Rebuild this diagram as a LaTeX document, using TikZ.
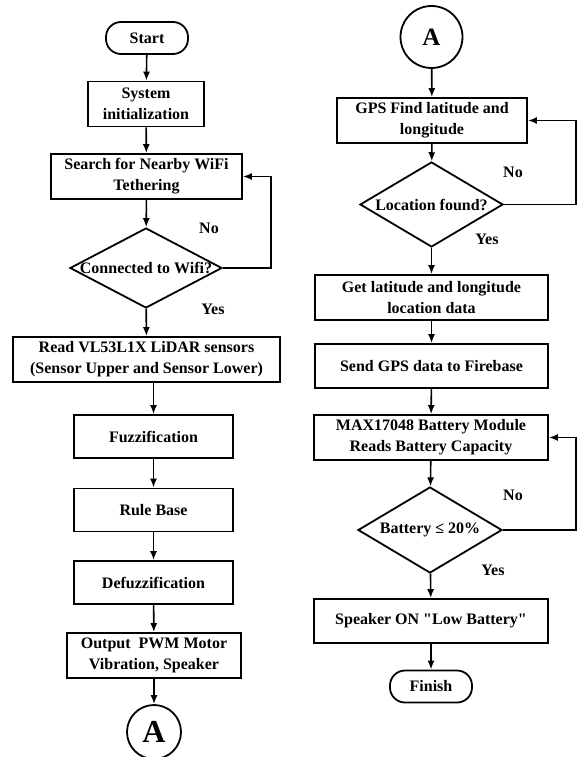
\documentclass[tikz,border=0pt]{standalone}
\usepackage{fontspec}
\setmainfont{Liberation Serif}[Ligatures=TeXOff]
\usetikzlibrary{shapes.geometric, arrows.meta}

\begin{document}
\begin{tikzpicture}[x=1pt, y=-1pt, >={Latex[length=9pt, width=7pt]}, line width=1.6pt,
    box/.style={draw, rectangle, line width=1.8pt, minimum height=45pt, align=center,
      inner sep=1pt, font=\bfseries\fontsize{16}{21}\selectfont},
    term/.style={box, rounded corners=15pt, minimum height=32pt, minimum width=82pt},
    decision/.style={draw, diamond, line width=1.8pt, inner sep=0pt},
    conn/.style={draw, circle, line width=1.8pt, inner sep=0pt},
    lbl/.style={font=\bfseries\fontsize{16}{18}\selectfont}]
    \useasboundingbox (0,0) rectangle (577,757);
    % left column
    \node [term]                        (start)  at (147, 38)    {Start};
    \node [box, minimum width=116pt]    (init)   at (146, 104)   {System\\initialization};
    \node [box, minimum width=191pt]    (search) at (146.5, 176.5) {Search for Nearby WiFi\\Tethering};
    \node [decision, minimum width=152pt, minimum height=80pt,
           label={[lbl]center:Connected to Wifi?}] (wifi) at (146, 268) {};
    \node [box, minimum width=267pt]    (read)   at (146.5, 359.5) {Read VL53L1X LiDAR sensors\\(Sensor Upper and Sensor Lower)};
    \node [box, minimum width=159pt, minimum height=43pt] (fuzz)   at (153.5, 436.5) {Fuzzification};
    \node [box, minimum width=159pt, minimum height=43pt] (rule)   at (153.5, 510)   {Rule Base};
    \node [box, minimum width=159pt, minimum height=43pt] (defuzz) at (153.5, 582.5) {Defuzzification};
    \node [box, minimum width=174pt]    (output) at (154, 655.5) {Output~ PWM Motor\\Vibration, Speaker};
    \node [conn, minimum size=54pt, font=\bfseries\fontsize{32}{32}\selectfont] (outA) at (154, 732) {A};
    \node [lbl] (wifino)  at (209, 228) {No};
    \node [lbl] (wifiyes) at (213, 309) {Yes};
    \draw [->] (start) -- (init);
    \draw [->] (init) -- (search);
    \draw [->] (search) -- (wifi);
    \draw [->] (wifi) -- (read);
    \draw [->] (wifi.east) -- ++(48, 0) |- (search.east);
    \draw [->] (read.south -| fuzz.north) -- (fuzz);
    \draw [->] (fuzz) -- (rule);
    \draw [->] (rule) -- (defuzz);
    \draw [->] (defuzz) -- (output);
    \draw [->] (output) -- (outA);
    % right column
    \node [conn, minimum size=62pt, font=\bfseries\fontsize{25}{25}\selectfont] (inA) at (431.5, 37) {A};
    \node [box, minimum width=190pt]    (gps)    at (432, 120.5)  {GPS Find latitude and\\longitude};
    \node [decision, minimum width=143pt, minimum height=85pt,
           label={[lbl]center:Location found?}] (found) at (431.5, 204.5) {};
    \node [box, minimum width=233pt]    (getloc) at (431.5, 297.5) {Get latitude and longitude\\location data};
    \node [box, minimum width=233pt, minimum height=44pt] (send) at (431.5, 366) {Send GPS data to Firebase};
    \node [box, minimum width=234pt]    (batread) at (431, 437.5) {MAX17048 Battery Module\\Reads Battery Capacity};
    \node [decision, minimum width=144pt, minimum height=86pt,
           label={[lbl]center:Battery ≤ 20\%}] (low) at (430, 530) {};
    \node [box, minimum width=234pt, minimum height=44pt] (speaker) at (431, 621) {Speaker ON "Low Battery"};
    \node [term]                        (finish) at (431, 686.5) {Finish};
    \node [lbl] (foundno)  at (513, 172) {No};
    \node [lbl] (foundyes) at (487, 239) {Yes};
    \node [lbl] (lowno)    at (513, 495) {No};
    \node [lbl] (lowyes)   at (493, 570) {Yes};
    \draw [->] (inA) -- (gps);
    \draw [->] (gps) -- (found);
    \draw [->] (found.east) -- ++(72, 0) |- (gps.east);
    \draw [->] (found) -- (getloc);
    \draw [->] (getloc) -- (send);
    \draw [->] (send) -- (batread);
    \draw [->] (batread) -- (low);
    \draw [->] (low.east) -- ++(73, 0) |- (batread.east);
    \draw [->] (low) -- (speaker);
    \draw [->] (speaker) -- (finish);
\end{tikzpicture}
\end{document}
